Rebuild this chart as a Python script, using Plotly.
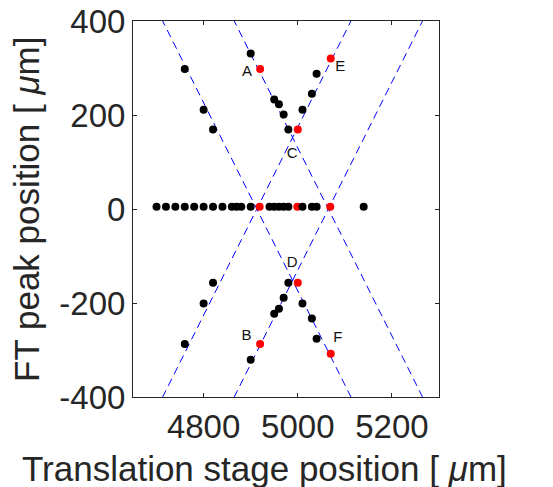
import numpy as np
import plotly.graph_objects as go

# ---- data ----
# black points (off-axis branches)
black_x = [4760, 4800, 4820, 4900, 4950, 4960, 4970, 4980, 5010, 5030, 5040,
           4760, 4800, 4820, 4900, 4950, 4960, 4970, 4980, 5010, 5030, 5040]
black_y = [298, 211, 169, 331, 233, 223, 201, 169, 211, 245, 288,
           -287, -201, -157, -321, -223, -212, -189, -157, -201, -233, -276]
# black points near zero
zero_x = [4700, 4720, 4740, 4760, 4780, 4800, 4820, 4840, 4860, 4870, 4880, 4900,
          4940, 4950, 4960, 4970, 4980, 5010, 5030, 5040, 5140]
zero_y = [5] * len(zero_x)
# red highlighted points
red_x = [4920, 5000, 5070, 4920, 5000, 5070, 4919, 4999, 5069]
red_y = [298, 169, 320, -287, -157, -308, 5, 5, 5]
# point labels
label_text = ["A", "C", "E", "B", "D", "F"]
label_x = [4892, 4988, 5090, 4891, 4988, 5085]
label_y = [290, 116, 301, -270, -115, -276]
# dashed guide lines: y = slope * (x - x0)
line_x0 = [4913, 4913, 5065, 5065]
line_slope = [2.0, -2.0, 2.0, -2.0]

x_ticks = [4800, 5000, 5200]
y_ticks = [-400, -200, 0, 200, 400]
y_ticklabels = ["-400", "-200", "0", "200", "400"]

FONT = "Liberation Sans, Arial, sans-serif"
AXC = "#262626"

fig = go.Figure()

for x0, s in zip(line_x0, line_slope):
    yy = np.array([-500.0, 500.0])
    xx = x0 + yy / s
    fig.add_trace(go.Scatter(x=xx, y=yy, mode="lines",
                             line=dict(color="#0000ff", width=1, dash="8px,5px"),
                             hoverinfo="skip", showlegend=False))

fig.add_trace(go.Scatter(x=black_x, y=black_y, mode="markers",
                         marker=dict(color="black", size=8), showlegend=False))
fig.add_trace(go.Scatter(x=red_x, y=red_y, mode="markers",
                         marker=dict(color="#ff0000", size=8), showlegend=False))
fig.add_trace(go.Scatter(x=zero_x, y=zero_y, mode="markers",
                         marker=dict(color="black", size=8), showlegend=False))
fig.add_trace(go.Scatter(x=label_x, y=label_y, mode="text", text=label_text,
                         textfont=dict(family=FONT, size=15, color="#111111"),
                         textposition="middle center", showlegend=False))

fig.update_layout(
    width=553, height=487,
    margin=dict(l=133, r=114, t=21, b=90, autoexpand=False),
    paper_bgcolor="white", plot_bgcolor="white",
    font=dict(family=FONT, color=AXC),
    xaxis=dict(range=[4650, 5300], tickvals=x_ticks, ticks="inside", ticklen=4,
               tickcolor=AXC, showline=True, linecolor=AXC, linewidth=1,
               mirror="ticks", showgrid=False, zeroline=False,
               ticklabeloverflow="allow",
               tickfont=dict(family=FONT, size=33, color=AXC)),
    yaxis=dict(range=[-400, 400], tickvals=y_ticks, ticktext=y_ticklabels,
               ticks="inside", ticklen=4, tickcolor=AXC, showline=True,
               linecolor=AXC, linewidth=1, mirror="ticks", showgrid=False,
               zeroline=False, ticklabeloverflow="allow",
               tickfont=dict(family=FONT, size=33, color=AXC)),
    annotations=[
        dict(text="Translation stage position [ <i>μ</i>m]", xref="paper", yref="paper",
             x=0.431, y=-0.189, xanchor="center", yanchor="middle", showarrow=False,
             font=dict(family=FONT, size=35, color=AXC)),
        dict(text="FT peak position [ <i>μ</i>m]", xref="paper", yref="paper",
             x=-0.350, y=0.5, xanchor="center", yanchor="middle", textangle=-90,
             showarrow=False, font=dict(family=FONT, size=35, color=AXC)),
    ],
)

fig.write_html("out.html", config={"displayModeBar": False},
               post_script="document.body.style.margin='0';document.body.style.padding='0';")
